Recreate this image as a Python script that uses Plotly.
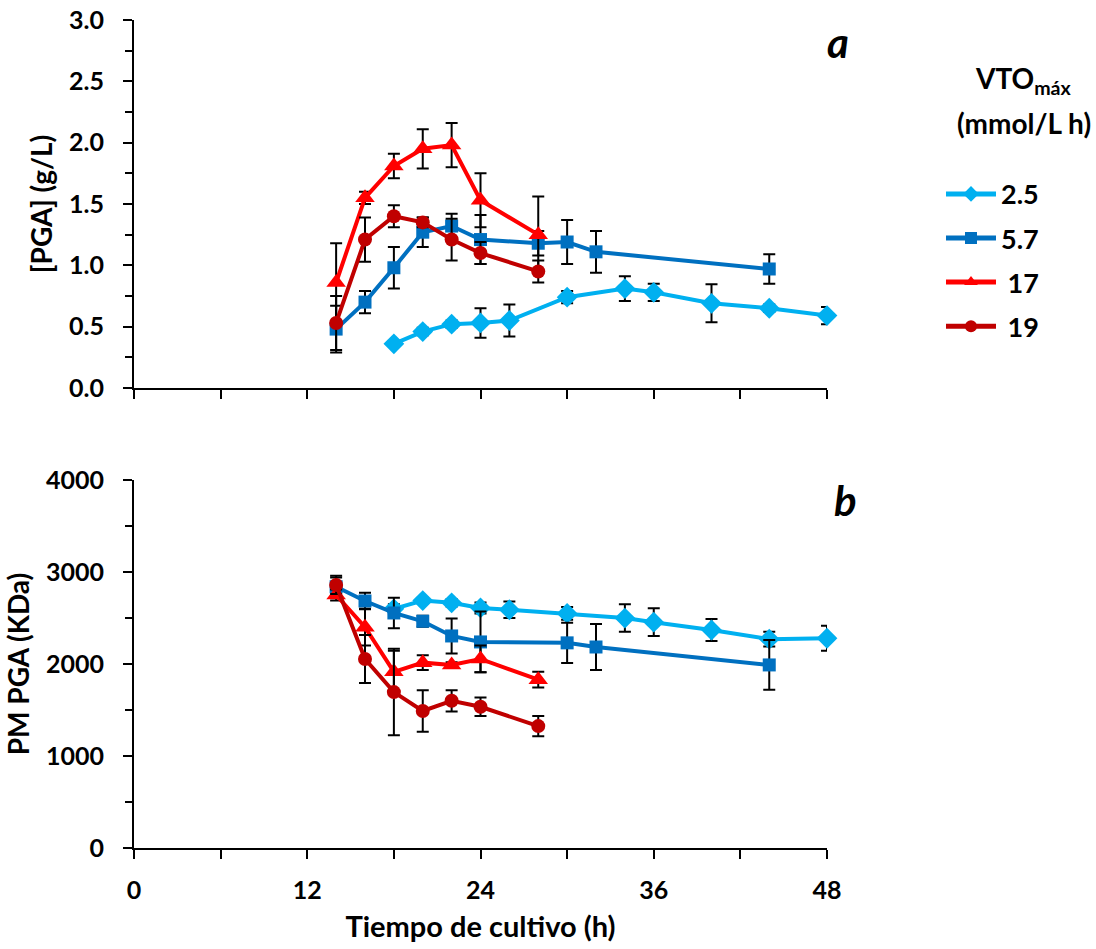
import plotly.graph_objects as go

# ---------------- data ----------------
series_names = ["2.5", "5.7", "\u00a017", "\u00a019"]
colors = ["#00B0F0", "#0070C0", "#FF0000", "#C00000"]
symbols = ["diamond", "square", "triangle-up", "circle"]
msizes = [16, 13, 17, 14]

# panel a : [PGA] (g/L)
t_25a = [18, 20, 22, 24, 26, 30, 34, 36, 40, 44, 48]
pga_25 = [0.36, 0.46, 0.52, 0.53, 0.55, 0.74, 0.81, 0.78, 0.69, 0.65, 0.59]
pga_25_err = [0.02, 0.03, 0.03, 0.12, 0.13, 0.05, 0.10, 0.07, 0.155, 0.03, 0.07]

t_57a = [14, 16, 18, 20, 22, 24, 28, 30, 32, 44]
pga_57 = [0.48, 0.70, 0.98, 1.27, 1.32, 1.21, 1.18, 1.19, 1.11, 0.97]
pga_57_err = [0.19, 0.09, 0.17, 0.12, 0.10, 0.20, 0.10, 0.18, 0.17, 0.12]

t_17a = [14, 16, 18, 20, 22, 24, 28]
pga_17 = [0.86, 1.55, 1.81, 1.95, 1.98, 1.53, 1.25]
pga_17_err = [0.32, 0.05, 0.10, 0.16, 0.18, 0.22, 0.31]

t_19a = [14, 16, 18, 20, 22, 24, 28]
pga_19 = [0.53, 1.21, 1.40, 1.35, 1.21, 1.10, 0.95]
pga_19_err = [0.22, 0.18, 0.09, 0.04, 0.17, 0.09, 0.09]

# panel b : PM PGA (KDa)
t_25b = [18, 20, 22, 24, 26, 30, 34, 36, 40, 44, 48]
pm_25 = [2600, 2690, 2665, 2610, 2590, 2550, 2500, 2455, 2370, 2270, 2280]
pm_25_err = [50, 30, 40, 60, 90, 70, 150, 150, 120, 80, 135]

t_57b = [14, 16, 18, 20, 22, 24, 30, 32, 44]
pm_57 = [2840, 2685, 2555, 2465, 2305, 2240, 2230, 2185, 1990]
pm_57_err = [100, 90, 165, 60, 190, 330, 220, 250, 270]

t_17b = [14, 16, 18, 20, 22, 24, 28]
pm_17 = [2750, 2400, 1915, 2015, 1990, 2055, 1830]
pm_17_err = [60, 200, 230, 80, 30, 145, 85]

t_19b = [14, 16, 18, 20, 22, 24, 28]
pm_19 = [2860, 2055, 1695, 1490, 1600, 1535, 1325]
pm_19_err = [100, 260, 470, 225, 115, 100, 110]

x_ticks_major = [0, 12, 24, 36, 48]
x_ticks_all = [0, 6, 12, 18, 24, 30, 36, 42, 48]

# ---------------- figure ----------------
FONT = "Lato"
fig = go.Figure()

top = [(t_25a, pga_25, pga_25_err), (t_57a, pga_57, pga_57_err),
       (t_17a, pga_17, pga_17_err), (t_19a, pga_19, pga_19_err)]
bot = [(t_25b, pm_25, pm_25_err), (t_57b, pm_57, pm_57_err),
       (t_17b, pm_17, pm_17_err), (t_19b, pm_19, pm_19_err)]

for i, (x, y, e) in enumerate(top):
    fig.add_trace(go.Scatter(
        x=x, y=y, mode="lines+markers", name=series_names[i],
        legendgroup="g%d" % i,
        line=dict(color=colors[i], width=4),
        marker=dict(symbol=symbols[i], size=msizes[i], color=colors[i]),
        error_y=dict(type="data", array=e, color="black", thickness=2, width=6),
        cliponaxis=False, xaxis="x", yaxis="y"))

for i, (x, y, e) in enumerate(bot):
    fig.add_trace(go.Scatter(
        x=x, y=y, mode="lines+markers", name=series_names[i],
        legendgroup="g%d" % i, showlegend=False,
        line=dict(color=colors[i], width=4),
        marker=dict(symbol=symbols[i], size=msizes[i], color=colors[i]),
        error_y=dict(type="data", array=e, color="black", thickness=2, width=6),
        cliponaxis=False, xaxis="x2", yaxis="y2"))

axis_common = dict(showline=True, linecolor="black", linewidth=2, showgrid=False,
                   zeroline=False, ticks="outside", ticklen=9, tickwidth=2,
                   tickcolor="black", automargin=False)

tickfont = dict(family=FONT, size=25, color="black", weight="bold")

fig.update_layout(
    width=1096, height=949,
    margin=dict(l=134, r=269, t=20, b=101),
    paper_bgcolor="white", plot_bgcolor="white",
    font=dict(family=FONT, color="black"),
    xaxis=dict(domain=[0, 1], anchor="y", range=[0, 48], tickvals=x_ticks_all,
               showticklabels=False, **axis_common),
    yaxis=dict(domain=[0.5556, 1], anchor="x", range=[0, 3], dtick=0.5,
               tickformat=".1f", ticklabelstandoff=14,
               minor=dict(dtick=0.25, ticks="outside", ticklen=7, tickwidth=2,
                          tickcolor="black"),
               tickfont=tickfont,
               title=dict(text="<b>[PGA] (g/L)</b>", font=dict(family=FONT, size=28),
                          standoff=8),
               **axis_common),
    xaxis2=dict(domain=[0, 1], anchor="y2", range=[0, 48], tickvals=x_ticks_major,
                ticklabelstandoff=10,
                minor=dict(tickvals=x_ticks_all, ticks="outside", ticklen=9,
                           tickwidth=2, tickcolor="black"),
                tickfont=tickfont,
                title=dict(text="<b>Tiempo de cultivo (h)</b>",
                           font=dict(family=FONT, size=29), standoff=14),
                **axis_common),
    yaxis2=dict(domain=[0, 0.4444], anchor="x2", range=[0, 4000], dtick=1000,
                ticklabelstandoff=14,
                minor=dict(dtick=500, ticks="outside", ticklen=7, tickwidth=2,
                           tickcolor="black"),
                tickfont=tickfont,
                title=dict(text="<b>PM PGA (KDa)</b>", font=dict(family=FONT, size=28),
                           standoff=8),
                **axis_common),
    legend=dict(x=1.1645, y=0.819, xanchor="left", yanchor="top",
                font=dict(family=FONT, size=27, color="black", weight="bold"),
                itemwidth=50, itemsizing="constant", tracegroupgap=6,
                bgcolor="rgba(0,0,0,0)"),
    showlegend=True,
    annotations=[
        dict(text="<b><i>a</i></b>", x=1.0159, y=0.9734, xref="paper", yref="paper",
             xanchor="center", yanchor="middle",
             showarrow=False, font=dict(family=FONT, size=42, color="black")),
        dict(text="<b><i>b</i></b>", x=1.0274, y=0.4203, xref="paper", yref="paper",
             xanchor="center", yanchor="middle",
             showarrow=False, font=dict(family=FONT, size=42, color="black")),
        dict(text="<b>VTO<sub>máx</sub></b>", x=1.284, y=0.927, xref="paper",
             yref="paper", showarrow=False, xanchor="center", yanchor="middle",
             font=dict(family=FONT, size=28, color="black")),
        dict(text="<b>(mmol/L h)</b>", x=1.284, y=0.876, xref="paper",
             yref="paper", showarrow=False, xanchor="center", yanchor="middle",
             font=dict(family=FONT, size=28, color="black")),
    ],
)

fig.write_html("out.html")
